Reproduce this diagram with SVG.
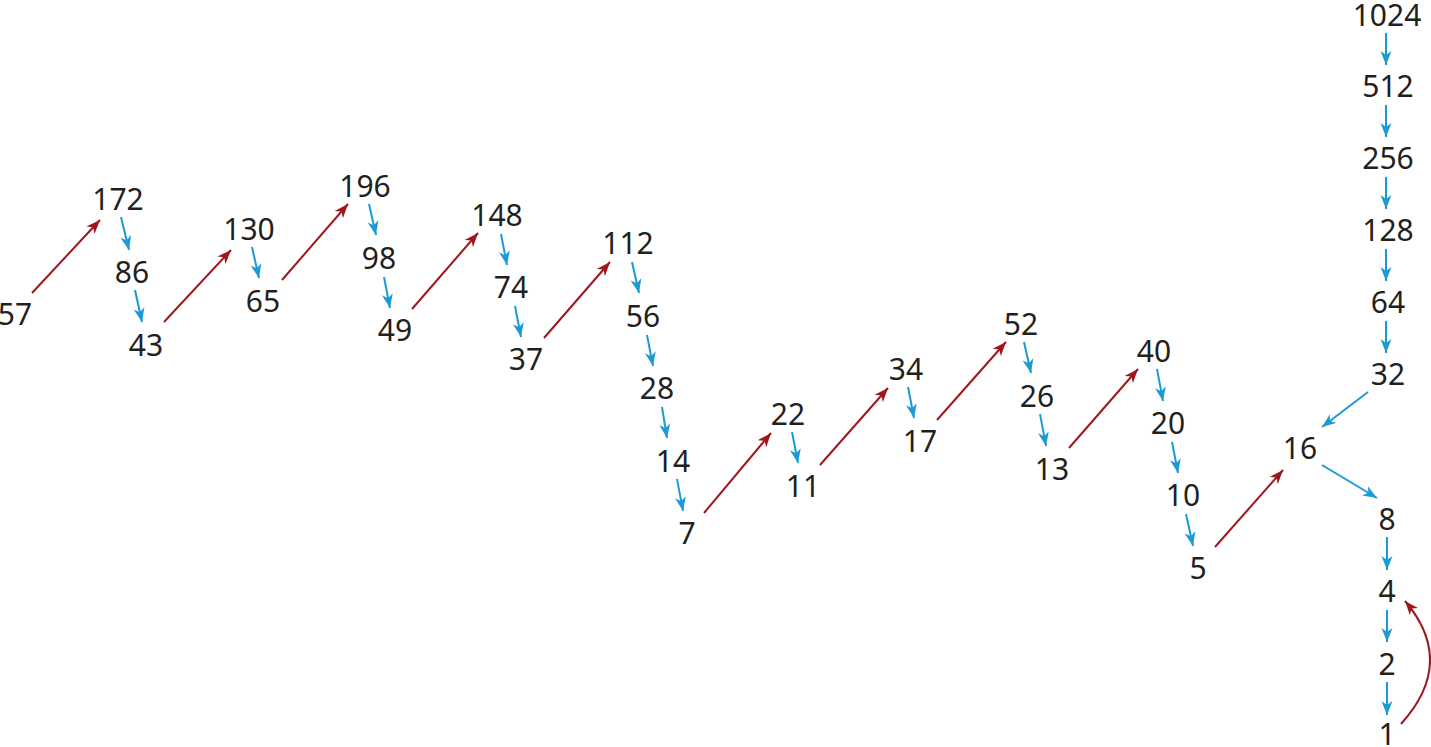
<svg xmlns="http://www.w3.org/2000/svg" width="1431" height="747" viewBox="0 0 1431 747">
<style>
text{font-family:"Noto Sans","Open Sans","DejaVu Sans",sans-serif;font-size:30px;fill:#231f20;text-anchor:middle}
.r{stroke:#a0161d;stroke-width:2;fill:none}
.b{stroke:#1c9ad6;stroke-width:2;fill:none}
</style>
<defs>
<marker id="mr" markerUnits="userSpaceOnUse" markerWidth="16" markerHeight="12" viewBox="-14 -6 16 12" refX="0" refY="0" orient="auto"><path d="M0,0 L-14,-5.5 L-10,0 L-14,5.5 Z" fill="#a0161d"/></marker>
<marker id="mb" markerUnits="userSpaceOnUse" markerWidth="16" markerHeight="12" viewBox="-14 -6 16 12" refX="0" refY="0" orient="auto"><path d="M0,0 L-14,-5.5 L-10,0 L-14,5.5 Z" fill="#1c9ad6"/></marker>
</defs>
<g id="connectors">
<g class="r" marker-end="url(#mr)">
<line x1="32" y1="293" x2="100" y2="220"/>
<line x1="164" y1="322" x2="231" y2="250"/>
<line x1="282" y1="280" x2="348" y2="204"/>
<line x1="412" y1="309" x2="478" y2="233"/>
<line x1="544" y1="338" x2="610" y2="262"/>
<line x1="704" y1="513" x2="771" y2="433"/>
<line x1="820" y1="465" x2="888" y2="388"/>
<line x1="937" y1="420" x2="1006" y2="342"/>
<line x1="1069" y1="448" x2="1138" y2="369"/>
<line x1="1215" y1="547" x2="1283" y2="470"/>
<path d="M1401,724 Q1457,662 1405,601"/>
</g>
<g class="b" marker-end="url(#mb)">
<line x1="121" y1="217" x2="129" y2="250"/>
<line x1="135" y1="290" x2="142" y2="322"/>
<line x1="252" y1="247" x2="259" y2="278"/>
<line x1="369" y1="204" x2="376" y2="235"/>
<line x1="384" y1="277" x2="390" y2="308"/>
<line x1="501" y1="234" x2="507" y2="265"/>
<line x1="515" y1="306" x2="521" y2="337"/>
<line x1="632" y1="262" x2="639" y2="293"/>
<line x1="647" y1="335" x2="653" y2="366"/>
<line x1="662" y1="407" x2="667" y2="438"/>
<line x1="677" y1="479" x2="683" y2="511"/>
<line x1="792" y1="432" x2="798" y2="463"/>
<line x1="908" y1="387" x2="914" y2="418"/>
<line x1="1024" y1="342" x2="1031" y2="373"/>
<line x1="1040" y1="414" x2="1046" y2="446"/>
<line x1="1157" y1="369" x2="1163" y2="401"/>
<line x1="1172" y1="442" x2="1178" y2="473"/>
<line x1="1186" y1="514" x2="1193" y2="546"/>
<line x1="1386" y1="33" x2="1386" y2="65"/>
<line x1="1386" y1="105" x2="1386" y2="137"/>
<line x1="1386" y1="177" x2="1386" y2="209"/>
<line x1="1386" y1="249" x2="1386" y2="281"/>
<line x1="1386" y1="321" x2="1386" y2="353"/>
<line x1="1368" y1="392" x2="1322" y2="427"/>
<line x1="1322" y1="465" x2="1377" y2="498"/>
<line x1="1387" y1="537" x2="1387" y2="570"/>
<line x1="1387" y1="610" x2="1387" y2="642"/>
<line x1="1387" y1="682" x2="1387" y2="715"/>
</g>
</g>
<g id="n57"><text x="15" y="325">57</text></g>
<g id="n172"><text x="118" y="210">172</text></g>
<g id="n86"><text x="132" y="283">86</text></g>
<g id="n43"><text x="146" y="356">43</text></g>
<g id="n130"><text x="249" y="240">130</text></g>
<g id="n65"><text x="263" y="312">65</text></g>
<g id="n196"><text x="365" y="197">196</text></g>
<g id="n98"><text x="379" y="269">98</text></g>
<g id="n49"><text x="395" y="341">49</text></g>
<g id="n148"><text x="497" y="226">148</text></g>
<g id="n74"><text x="511" y="298">74</text></g>
<g id="n37"><text x="526" y="370">37</text></g>
<g id="n112"><text x="628" y="254">112</text></g>
<g id="n56"><text x="643" y="327">56</text></g>
<g id="n28"><text x="657" y="399">28</text></g>
<g id="n14"><text x="673" y="472">14</text></g>
<g id="n7"><text x="687" y="544">7</text></g>
<g id="n22"><text x="788" y="425">22</text></g>
<g id="n11"><text x="803" y="497">11</text></g>
<g id="n34"><text x="906" y="380">34</text></g>
<g id="n17"><text x="920" y="452">17</text></g>
<g id="n52"><text x="1021" y="335">52</text></g>
<g id="n26"><text x="1037" y="407">26</text></g>
<g id="n13"><text x="1052" y="480">13</text></g>
<g id="n40"><text x="1154" y="362">40</text></g>
<g id="n20"><text x="1168" y="434">20</text></g>
<g id="n10"><text x="1183" y="506">10</text></g>
<g id="n5"><text x="1198" y="579">5</text></g>
<g id="n16"><text x="1300" y="459">16</text></g>
<g id="n1024"><text x="1387" y="26">1024</text></g>
<g id="n512"><text x="1388" y="97">512</text></g>
<g id="n256"><text x="1388" y="169">256</text></g>
<g id="n128"><text x="1388" y="241">128</text></g>
<g id="n64"><text x="1388" y="313">64</text></g>
<g id="n32"><text x="1388" y="385">32</text></g>
<g id="n8"><text x="1387" y="530">8</text></g>
<g id="n4"><text x="1387" y="602">4</text></g>
<g id="n2"><text x="1387" y="675">2</text></g>
<g id="n1"><text x="1387" y="745">1</text></g>
</svg>
